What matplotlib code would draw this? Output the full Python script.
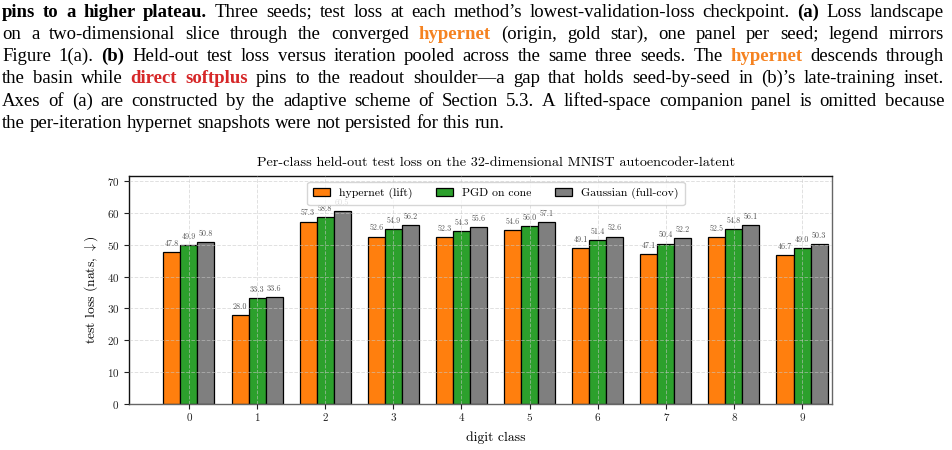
import matplotlib
matplotlib.use("Agg")
import matplotlib.pyplot as plt
import numpy as np

# ---- data ----
classes = ["0", "1", "2", "3", "4", "5", "6", "7", "8", "9"]
hypernet = [47.8, 28.0, 57.3, 52.6, 52.3, 54.6, 49.1, 47.1, 52.5, 46.7]
pgd = [49.9, 33.3, 58.8, 54.9, 54.3, 56.0, 51.4, 50.4, 54.8, 49.0]
gaussian = [50.8, 33.6, 60.5, 56.2, 55.6, 57.1, 52.6, 52.2, 56.1, 50.3]
series_labels = ["hypernet (lift)", "PGD on cone", "Gaussian (full-cov)"]
series_colors = ["#ff7f0e", "#2ca02c", "#7f7f7f"]

title = "Per-class held-out test loss on the 32-dimensional MNIST autoencoder-latent"

# caption lines: list of (text, style) runs
ORANGE = "#f58220"
RED = "#d62728"
caption = [
	[("pins to a higher plateau.", "b"), (" Three seeds; test loss at each method\u2019s lowest-validation-loss checkpoint. ", "n"),
	 ("(a)", "b"), (" Loss landscape", "n")],
	[("on a two-dimensional slice through the converged ", "n"), ("hypernet", "o"),
	 (" (origin, gold star), one panel per seed; legend mirrors", "n")],
	[("Figure 1(a). ", "n"), ("(b)", "b"), (" Held-out test loss versus iteration pooled across the same three seeds. The ", "n"),
	 ("hypernet", "o"), (" descends through", "n")],
	[("the basin while ", "n"), ("direct softplus", "r"),
	 (" pins to the readout shoulder\u2014a gap that holds seed-by-seed in (b)\u2019s late-training inset.", "n")],
	[("Axes of (a) are constructed by the adaptive scheme of Section 5.3. A lifted-space companion panel is omitted because", "n")],
	[("the per-iteration hypernet snapshots were not persisted for this run.", "n")],
]

W, H = 952, 450
fig = plt.figure(figsize=(W / 100, H / 100), dpi=100)
renderer = fig.canvas.get_renderer()

CAP_FONT = "Liberation Serif"
CAP_SIZE = 13.5
styles = {
	"n": dict(color="black", weight="normal"),
	"b": dict(color="black", weight="bold"),
	"o": dict(color=ORANGE, weight="bold"),
	"r": dict(color=RED, weight="bold"),
}

def text_width(t):
	bb = t.get_window_extent(renderer=renderer)
	return bb.width

x_left, x_right = 2, 944
baseline0, line_step = 16.7, 22.2
space = text_width(fig.text(0, 0, "a a", fontfamily=CAP_FONT, fontsize=CAP_SIZE, alpha=0)) - \
	text_width(fig.text(0, 0, "aa", fontfamily=CAP_FONT, fontsize=CAP_SIZE, alpha=0))
for i, line in enumerate(caption):
	# split runs into words, glue pieces that touch across runs
	groups = []
	prev_space = True
	for txt, st in line:
		parts = txt.split(" ")
		for j, p in enumerate(parts):
			if p == "":
				continue
			if j == 0 and not prev_space and groups:
				groups[-1].append((p, st))
			else:
				groups.append([(p, st)])
		prev_space = txt.endswith(" ")
	y = 1 - (baseline0 + i * line_step) / H
	objs = []
	widths = []
	for g in groups:
		gobjs = []
		gw = 0
		for w, st in g:
			t = fig.text(0, y, w, fontfamily=CAP_FONT, fontsize=CAP_SIZE, va="baseline", ha="left", **styles[st])
			gobjs.append((t, text_width(t)))
			gw += gobjs[-1][1]
		objs.append(gobjs)
		widths.append(gw)
	last = i == len(caption) - 1
	if last or len(groups) < 2:
		gap = space
	else:
		gap = (x_right - x_left - sum(widths)) / (len(groups) - 1)
	x = x_left
	for gobjs, gw in zip(objs, widths):
		for t, tw in gobjs:
			t.set_x(x / W)
			x += tw
		x += gap

# ---- chart ----
plt.rcParams["mathtext.fontset"] = "cm"
plt.rcParams["axes.formatter.use_mathtext"] = True
CM = "cmr10"

ax = fig.add_axes([129 / W, 1 - 404 / H, (832 - 129) / W, (404 - 176) / H])
x = np.arange(len(classes))
width = 0.25
for k, (vals, lab, col) in enumerate(zip([hypernet, pgd, gaussian], series_labels, series_colors)):
	pos = x + (k - 1) * width
	ax.bar(pos, vals, width, color=col, edgecolor="black", linewidth=0.9, label=lab, zorder=2)
	for p, v in zip(pos, vals):
		ax.text(p, v + 1.3, f"{v:.1f}", ha="center", va="bottom", fontsize=5.8,
				color="#555555", fontfamily=CM, zorder=3)

ax.set_xlim(-0.88, 9.44)
ax.set_ylim(0, 71.6)
ax.set_xticks(x)
ax.set_xticklabels(classes, fontfamily=CM)
ax.set_yticks(np.arange(0, 71, 10))
for lbl in ax.get_yticklabels():
	lbl.set_fontfamily(CM)
ax.tick_params(labelsize=8, length=3.5, width=0.8, colors="#222222")
ax.set_axisbelow(False)
ax.grid(True, linestyle="--", color="#c8c8c8", alpha=0.55, linewidth=0.7)
for s in ax.spines.values():
	s.set_linewidth(1.0)
	s.set_color("#111111")
ax.spines["bottom"].set_color("#666666")
ax.spines["right"].set_color("#666666")

ax.set_title(title, fontfamily=CM, fontsize=10.2, pad=7, x=0.522)
ax.set_xlabel("digit class", fontfamily=CM, fontsize=9.8, labelpad=6, x=0.522)
ax.set_ylabel(r"test loss (nats, $\downarrow$)", fontfamily=CM, fontsize=9.8, labelpad=5)

leg = ax.legend(loc="upper center", ncol=3, frameon=True, fancybox=True,
				bbox_to_anchor=(0.522, 1.0), handlelength=1.4, columnspacing=2.0,
				borderpad=0.5, prop={"family": CM, "size": 8.5})
leg.get_frame().set_edgecolor("#cccccc")
leg.set_zorder(5)

fig.savefig("out.png", dpi=100)
